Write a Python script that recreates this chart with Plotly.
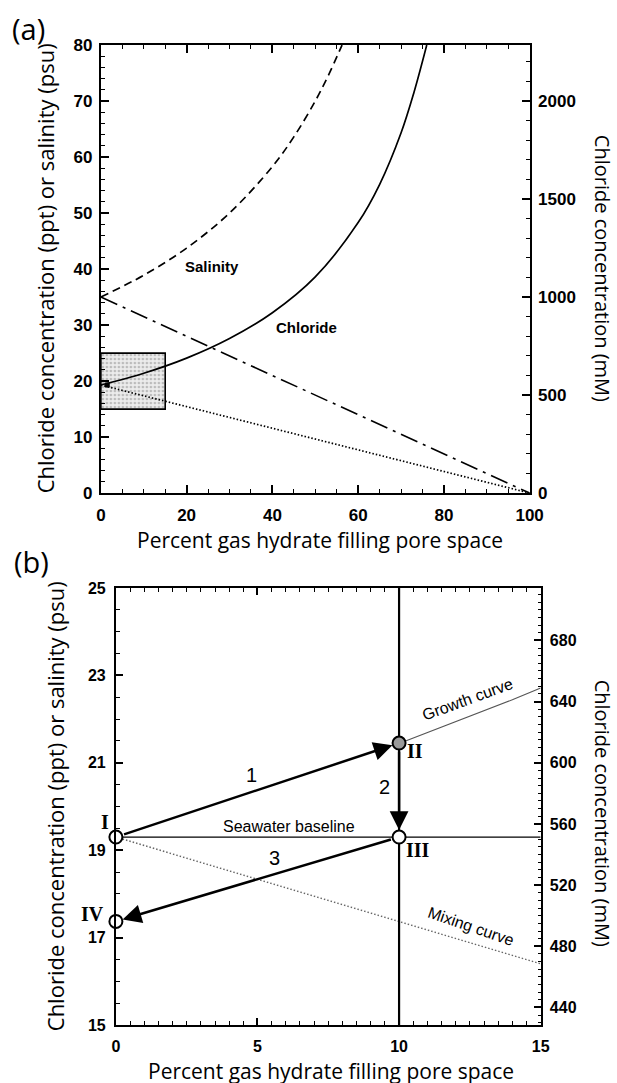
import plotly.graph_objects as go

# ---------------- Panel (a): salinity / chloride vs hydrate fraction ----------------
hydrate_pct = [0, 10, 20, 30, 40, 50, 60, 65, 70, 73, 76]
chloride_ppt = [19.3, 21.4, 24.1, 27.6, 32.2, 38.6, 48.3, 55.1, 64.3, 71.5, 80.0]

sal_pct = [0, 10, 20, 30, 40, 45, 50, 53, 56.25]
salinity_psu = [35.0, 38.9, 43.75, 50.0, 58.3, 63.6, 70.0, 74.5, 80.0]

sal_mix_pct = [0, 100]
sal_mix_psu = [35.0, 0.0]

cl_mix_pct = [0, 100]
cl_mix_ppt = [19.3, 0.0]

box_pct = [0, 15, 15, 0, 0]
box_ppt = [15, 15, 25, 25, 15]

# ---------------- Panel (b): closed-system hydrate growth / dissociation ----------------
stage_names = ["I", "II", "III", "IV"]
stage_pct = [0, 10, 10, 0]
stage_ppt = [19.3, 21.45, 19.3, 17.37]

growth_pct = [10, 11, 12, 13, 14, 15]
growth_ppt = [21.44, 21.69, 21.93, 22.18, 22.44, 22.71]

mixing_pct = [0, 15]
mixing_ppt = [19.3, 16.4]

baseline_pct = [0, 15]
baseline_ppt = [19.3, 19.3]

hydrate_limit_pct = [10, 10]
hydrate_limit_ppt = [15, 25]

step_labels = ["1", "2", "3"]
step_label_pct = [4.8, 9.5, 5.6]
step_label_ppt = [20.72, 20.45, 18.82]

MM_PER_PPT = 28.5714  # chloride: ppt -> mmol/L

# layout helpers: positions are given in view pixels (617 x 1083 view)
X0, SX = 4.3, 0.968
PAGE_MARGIN, SY = 8, 1083 / 1100
W, H = 628, 1084


def px_x(v):
    return ((v - X0) / SX) / W


def px_y(v):
    return 1 - (v / SY - PAGE_MARGIN) / H


fig = go.Figure()

# panel (a) traces
fig.add_trace(go.Scatter(
    x=box_pct, y=box_ppt, mode="lines", fill="toself",
    fillcolor="#e4e4e4",
    fillpattern=dict(shape=".", size=4, solidity=0.35, fgcolor="#8a8a8a", bgcolor="#ececec"),
    line=dict(color="black", width=1.6), xaxis="x", yaxis="y", hoverinfo="skip"))
fig.add_trace(go.Scatter(
    x=cl_mix_pct, y=cl_mix_ppt, mode="lines",
    line=dict(color="black", width=1.7, dash="1.5px,2px"), xaxis="x", yaxis="y"))
fig.add_trace(go.Scatter(
    x=sal_mix_pct, y=sal_mix_psu, mode="lines",
    line=dict(color="black", width=1.6, dash="18px,6px,3px,6px"), xaxis="x", yaxis="y"))
fig.add_trace(go.Scatter(
    x=sal_pct, y=salinity_psu, mode="lines", line_shape="spline",
    line=dict(color="black", width=1.7, dash="8px,5px"), xaxis="x", yaxis="y"))
fig.add_trace(go.Scatter(
    x=hydrate_pct, y=chloride_ppt, mode="lines", line_shape="spline",
    line=dict(color="black", width=1.7), xaxis="x", yaxis="y"))
fig.add_trace(go.Scatter(
    x=[hydrate_pct[0] + 1.5], y=[chloride_ppt[0]], mode="markers",
    marker=dict(symbol="square", size=5, color="black"), xaxis="x", yaxis="y"))

# panel (b) traces
fig.add_trace(go.Scatter(
    x=mixing_pct, y=mixing_ppt, mode="lines",
    line=dict(color="#666666", width=1.4, dash="1.5px,2px"), xaxis="x2", yaxis="y3"))
fig.add_trace(go.Scatter(
    x=baseline_pct, y=baseline_ppt, mode="lines",
    line=dict(color="black", width=1.3), xaxis="x2", yaxis="y3"))
fig.add_trace(go.Scatter(
    x=growth_pct, y=growth_ppt, mode="lines",
    line=dict(color="#555555", width=1.1), xaxis="x2", yaxis="y3"))
fig.add_trace(go.Scatter(
    x=hydrate_limit_pct, y=hydrate_limit_ppt, mode="lines",
    line=dict(color="black", width=2.2), xaxis="x2", yaxis="y3"))
fig.add_trace(go.Scatter(
    x=stage_pct, y=stage_ppt, mode="markers",
    marker=dict(size=13, color=["white", "#9a9a9a", "white", "white"],
                line=dict(color="black", width=2)),
    xaxis="x2", yaxis="y3", cliponaxis=False))

# empty traces that bring the secondary (mM) scales and the minor-tick scales to life
for xa, ya in [("x", "y2"), ("x3", "y"), ("x", "y5"), ("x", "y6"),
               ("x2", "y4"), ("x4", "y3"), ("x2", "y7"), ("x2", "y8")]:
    fig.add_trace(go.Scatter(x=[], y=[], mode="lines", xaxis=xa, yaxis=ya, hoverinfo="skip"))

annotations = []

# growth / dissociation arrows between successive stages
for i in range(3):
    annotations.append(dict(
        x=stage_pct[i + 1], y=stage_ppt[i + 1], ax=stage_pct[i], ay=stage_ppt[i],
        xref="x2", yref="y3", axref="x2", ayref="y3",
        showarrow=True, arrowhead=2, arrowsize=1.5, arrowwidth=2.5,
        arrowcolor="black", standoff=7, startstandoff=7, text=""))

for lbl, xv, yv in zip(step_labels, step_label_pct, step_label_ppt):
    annotations.append(dict(x=xv, y=yv, xref="x2", yref="y3", text=lbl, showarrow=False,
                            font=dict(family="Liberation Sans", size=20, color="black")))

roman_shift = [(-11, 15), (16, -8), (19, -13), (-23, 7)]
for name, xv, yv, (dx, dy) in zip(stage_names, stage_pct, stage_ppt, roman_shift):
    annotations.append(dict(x=xv, y=yv, xref="x2", yref="y3", text=name, showarrow=False,
                            xshift=dx, yshift=dy,
                            font=dict(family="Liberation Serif", size=20, color="black",
                                      weight="bold")))

annotations += [
    dict(x=12.4, y=22.45, xref="x2", yref="y3", text="Growth curve", showarrow=False,
         textangle=-20, font=dict(family="Liberation Sans", size=16, color="black")),
    dict(x=6.1, y=19.55, xref="x2", yref="y3", text="Seawater baseline", showarrow=False,
         font=dict(family="Liberation Sans", size=16, color="black")),
    dict(x=12.55, y=17.25, xref="x2", yref="y3", text="Mixing curve", showarrow=False,
         textangle=19, font=dict(family="Liberation Sans", size=16, color="black")),
    dict(x=26, y=40.4, xref="x", yref="y", text="Salinity", showarrow=False,
         font=dict(family="Liberation Sans", size=15, color="black", weight="bold")),
    dict(x=48, y=29.6, xref="x", yref="y", text="Chloride", showarrow=False,
         font=dict(family="Liberation Sans", size=15, color="black", weight="bold")),
]

title_font = dict(family="Open Sans", size=21, color="black")
right_font = dict(family="Open Sans", size=20, color="black")
side_font = dict(family="Open Sans", size=22, color="black")
paper_texts = [
    (28, 27, "(a)", 0, dict(family="Open Sans", size=29, color="black")),
    (31, 562, "(b)", 0, dict(family="Open Sans", size=29, color="black")),
    (44, 268, "Chloride concentration (ppt) or salinity (psu)", -90, side_font),
    (601, 268, "Chloride concentration (mM)", 90, right_font),
    (319, 540, "Percent gas hydrate filling pore space", 0, title_font),
    (55, 807, "Chloride concentration (ppt) or salinity (psu)", -90, side_font),
    (601, 814, "Chloride concentration (mM)", 90, right_font),
    (330, 1072, "Percent gas hydrate filling pore space", 0, title_font),
]
for px, py, txt, ang, fnt in paper_texts:
    annotations.append(dict(x=px_x(px), y=px_y(py), xref="paper", yref="paper",
                            xanchor="center", yanchor="middle", text=txt,
                            textangle=ang, showarrow=False, font=fnt))


def major_axis(size, tick_len):
    return dict(
        showgrid=False, zeroline=False, showline=True, linecolor="black", linewidth=2,
        ticks="inside", ticklen=tick_len, tickwidth=1.8, tickcolor="black",
        tickfont=dict(family="Liberation Sans", size=size, color="black", weight="bold"),
        fixedrange=True,
    )


def minor_axis(tick_len=4):
    return dict(
        showgrid=False, zeroline=False, showline=False, showticklabels=False,
        ticks="inside", ticklen=tick_len, tickwidth=1.4, tickcolor="black",
        fixedrange=True,
    )


dom_a_x = [px_x(100), px_x(528)]
dom_a_y = [px_y(493), px_y(44)]
dom_b_x = [px_x(115), px_x(539)]
dom_b_y = [px_y(1026), px_y(588)]

range_a_mm = [0, 80 * MM_PER_PPT]
range_b_mm = [15 * MM_PER_PPT, 25 * MM_PER_PPT]

fig.update_layout(
    width=W, height=H, margin=dict(l=0, r=0, t=0, b=0),
    paper_bgcolor="white", plot_bgcolor="white", showlegend=False,
    annotations=annotations,
    # panel (a)
    xaxis=dict(domain=dom_a_x, anchor="y", range=[0, 100], dtick=20, mirror="ticks",
               ticklabelstandoff=5, **major_axis(17, 8)),
    xaxis3=dict(overlaying="x", anchor="y", range=[0, 100], tick0=0, dtick=5,
                mirror="ticks", **minor_axis()),
    yaxis=dict(domain=dom_a_y, anchor="x", range=[0, 80], dtick=10,
               ticklabelstandoff=3, **major_axis(17, 8)),
    yaxis5=dict(overlaying="y", anchor="x", side="left", range=[0, 80], tick0=0, dtick=2,
                **minor_axis()),
    yaxis2=dict(overlaying="y", side="right", anchor="x", range=range_a_mm,
                dtick=500, ticklabelstandoff=3, **major_axis(17, 8)),
    yaxis6=dict(overlaying="y", side="right", anchor="x", range=range_a_mm,
                tick0=0, dtick=100, **minor_axis()),
    # panel (b)
    xaxis2=dict(domain=dom_b_x, anchor="y3", range=[0, 15], dtick=5, mirror="ticks",
                ticklabelstandoff=6, **major_axis(16, 7)),
    xaxis4=dict(overlaying="x2", anchor="y3", range=[0, 15], tick0=0, dtick=0.5,
                mirror="ticks", **minor_axis()),
    yaxis3=dict(domain=dom_b_y, anchor="x2", range=[15, 25], tick0=15, dtick=2,
                ticklabelstandoff=5, **major_axis(16, 7)),
    yaxis7=dict(overlaying="y3", anchor="x2", side="left", range=[15, 25], tick0=15,
                dtick=0.5, **minor_axis()),
    yaxis4=dict(overlaying="y3", side="right", anchor="x2", range=range_b_mm,
                tick0=440, dtick=40, ticklabelstandoff=4, **major_axis(16, 7)),
    yaxis8=dict(overlaying="y3", side="right", anchor="x2", range=range_b_mm,
                tick0=440, dtick=5, **minor_axis(3)),
)

fig.write_html("out.html")
